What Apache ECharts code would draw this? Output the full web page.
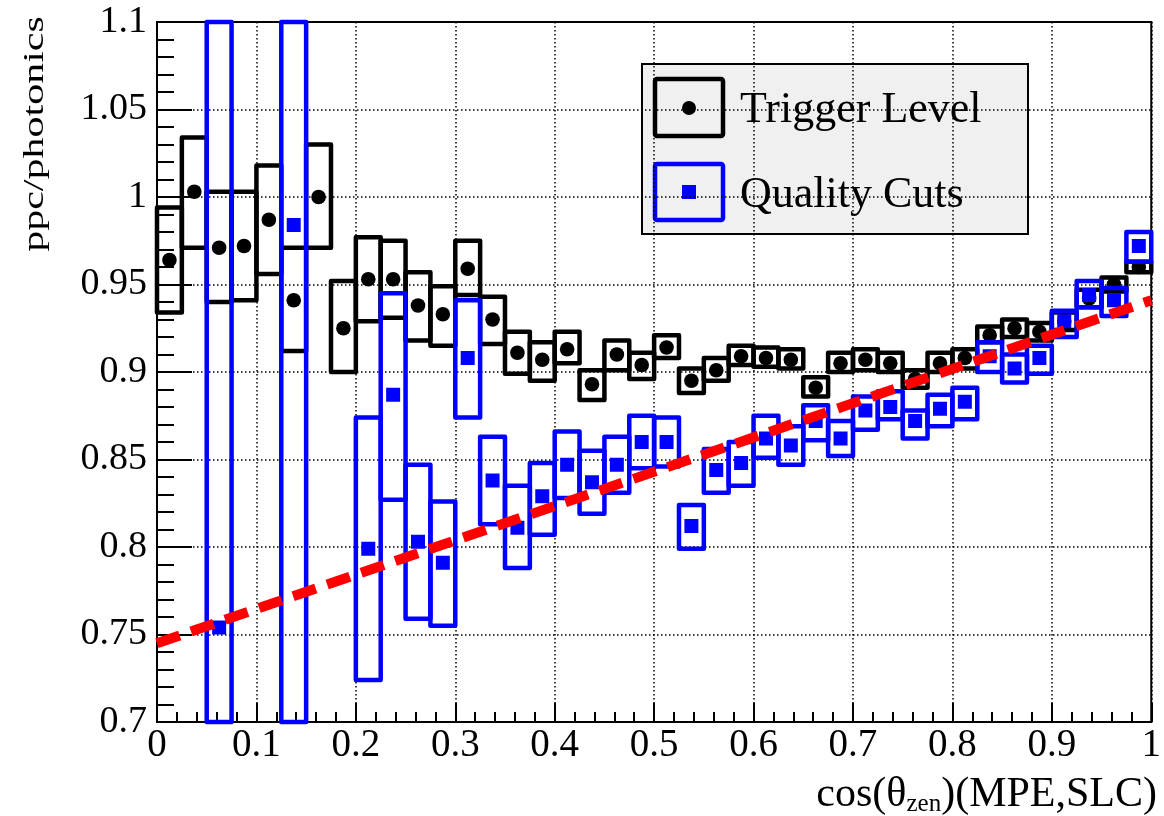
<!DOCTYPE html>
<html>
<head>
<meta charset="utf-8">
<script src="https://cdn.jsdelivr.net/npm/echarts@6/dist/echarts.min.js"></script>
<style>
  html, body { margin: 0; padding: 0; background: #fff; }
  #chart { width: 1164px; height: 816px; }
</style>
</head>
<body>
<div id="chart"></div>
<script>
// Bin lower edges in cos(theta_zen); every bin is binWidth wide
const binWidth = 0.025;
const binLow = [0, 0.025, 0.05, 0.075, 0.1, 0.125, 0.15, 0.175, 0.2, 0.225,
                0.25, 0.275, 0.3, 0.325, 0.35, 0.375, 0.4, 0.425, 0.45, 0.475,
                0.5, 0.525, 0.55, 0.575, 0.6, 0.625, 0.65, 0.675, 0.7, 0.725,
                0.75, 0.775, 0.8, 0.825, 0.85, 0.875, 0.9, 0.925, 0.95, 0.975];

// Trigger Level: ratio and its error band (low / high)
const triggerVal = [0.964, 1.003, 0.971, 0.972, 0.987, 0.941, 1.000, 0.925, 0.953, 0.953,
                    0.938, 0.933, 0.959, 0.930, 0.911, 0.907, 0.913, 0.893, 0.910, 0.904,
                    0.914, 0.895, 0.901, 0.909, 0.908, 0.907, 0.891, 0.905, 0.907, 0.905,
                    0.896, 0.905, 0.908, 0.921, 0.925, 0.923, 0.929, 0.942, 0.950, 0.960];
const triggerLo  = [0.934, 0.971, 0.940, 0.941, 0.956, 0.912, 0.971, 0.900, 0.929, 0.931,
                    0.918, 0.915, 0.944, 0.916, 0.899, 0.895, 0.905, 0.884, 0.901, 0.896,
                    0.908, 0.888, 0.895, 0.904, 0.903, 0.902, 0.886, 0.900, 0.901, 0.900,
                    0.891, 0.900, 0.902, 0.917, 0.920, 0.918, 0.924, 0.937, 0.946, 0.957];
const triggerHi  = [0.994, 1.034, 1.003, 1.003, 1.018, 0.971, 1.030, 0.952, 0.977, 0.975,
                    0.957, 0.949, 0.975, 0.943, 0.923, 0.917, 0.923, 0.901, 0.918, 0.911,
                    0.921, 0.902, 0.908, 0.915, 0.914, 0.913, 0.897, 0.911, 0.913, 0.911,
                    0.901, 0.911, 0.913, 0.926, 0.930, 0.928, 0.934, 0.947, 0.954, 0.963];

// Quality Cuts: ratio and error band (null where the bin is empty)
const qualityVal = [null, null, 0.754, null, null, 0.984, null, null, 0.799, 0.887,
                    0.803, 0.791, 0.908, 0.838, 0.811, 0.829, 0.847, 0.837, 0.847, 0.860,
                    0.860, 0.812, 0.844, 0.848, 0.862, 0.858, 0.872, 0.862, 0.878, 0.880,
                    0.872, 0.879, 0.883, 0.909, 0.902, 0.908, 0.929, 0.944, 0.941, 0.972];
const qualityLo  = [null, null, 0.600, null, null, 0.600, null, null, 0.724, 0.827,
                    0.759, 0.755, 0.874, 0.813, 0.788, 0.807, 0.828, 0.819, 0.831, 0.845,
                    0.846, 0.799, 0.831, 0.835, 0.851, 0.847, 0.861, 0.852, 0.867, 0.873,
                    0.862, 0.869, 0.873, 0.900, 0.894, 0.899, 0.920, 0.937, 0.932, 0.963];
const qualityHi  = [null, null, 1.200, null, null, 1.200, null, null, 0.874, 0.945,
                    0.847, 0.826, 0.941, 0.863, 0.835, 0.848, 0.866, 0.855, 0.863, 0.875,
                    0.874, 0.824, 0.856, 0.860, 0.875, 0.869, 0.881, 0.872, 0.886, 0.889,
                    0.878, 0.887, 0.891, 0.917, 0.910, 0.915, 0.935, 0.952, 0.948, 0.980];

// Linear trend through the Quality Cuts ratio
const fitX = [0, 1];
const fitY = [0.745, 0.941];

const xTicks = { min: 0, max: 1, step: 0.1 };
const yTicks = { min: 0.7, max: 1.1, step: 0.05 };

const serif = '"Liberation Serif", "Times New Roman", serif';

function rows(vals, lo, hi) {
  const out = [];
  for (let i = 0; i < binLow.length; i++) {
    if (vals[i] == null) continue;
    out.push([binLow[i], binLow[i] + binWidth, vals[i], lo[i], hi[i]]);
  }
  return out;
}

// Error box spanning the bin, with the central value marker inside
function boxRenderer(color, markerKind) {
  return function (params, api) {
    const x0 = api.value(0), x1 = api.value(1);
    const v = api.value(2);
    const lo = Math.max(api.value(3), yTicks.min);
    const hi = Math.min(api.value(4), yTicks.max);
    const pTop = api.coord([x0, hi]);
    const pBot = api.coord([x1, lo]);
    const c = api.coord([(x0 + x1) / 2, v]);
    const marker = markerKind === 'circle'
      ? { type: 'circle', shape: { cx: c[0], cy: c[1], r: 7.3 }, style: { fill: color } }
      : { type: 'rect', shape: { x: c[0] - 7, y: c[1] - 7, width: 14, height: 14 }, style: { fill: color } };
    return {
      type: 'group',
      children: [
        {
          type: 'rect',
          shape: { x: pTop[0], y: pTop[1], width: pBot[0] - pTop[0], height: pBot[1] - pTop[1] },
          style: { fill: 'none', stroke: color, lineWidth: 4.5, lineJoin: 'round' }
        },
        marker
      ]
    };
  };
}

const chart = echarts.init(document.getElementById('chart'), null, { renderer: 'canvas' });

const tickStyle = { color: '#000', width: 2 };
const gridDots = { color: '#000', width: 1.5, type: [1.5, 2.5] };

chart.setOption({
  animation: false,
  backgroundColor: '#fff',
  grid: {
    left: 157, right: 7, top: 22, bottom: 94,
    show: true, borderColor: '#000', borderWidth: 2, backgroundColor: 'transparent'
  },
  xAxis: {
    type: 'value', min: xTicks.min, max: xTicks.max, interval: xTicks.step,
    axisLine: { lineStyle: tickStyle },
    axisTick: { inside: true, length: 19, lineStyle: tickStyle },
    minorTick: { show: true, splitNumber: 5, length: 10, lineStyle: tickStyle },
    splitLine: { show: true, lineStyle: gridDots },
    axisLabel: { fontFamily: serif, fontSize: 39, color: '#000', margin: 4 }
  },
  yAxis: {
    type: 'value', min: yTicks.min, max: yTicks.max, interval: yTicks.step,
    axisLine: { lineStyle: tickStyle },
    axisTick: { inside: true, length: 35, lineStyle: tickStyle },
    minorTick: { show: true, splitNumber: 5, length: 17, lineStyle: tickStyle },
    splitLine: { show: true, lineStyle: gridDots },
    axisLabel: { fontFamily: serif, fontSize: 38, color: '#000', margin: 10 }
  },
  series: [
    {
      name: 'Trigger Level',
      type: 'custom',
      clip: false,
      z: 3,
      renderItem: boxRenderer('#000000', 'circle'),
      encode: { x: [0, 1], y: [2, 3, 4] },
      data: rows(triggerVal, triggerLo, triggerHi)
    },
    {
      name: 'Quality Cuts',
      type: 'custom',
      clip: false,
      z: 4,
      renderItem: boxRenderer('#0000ff', 'rect'),
      encode: { x: [0, 1], y: [2, 3, 4] },
      data: rows(qualityVal, qualityLo, qualityHi)
    },
    {
      name: 'fit',
      type: 'line',
      z: 5,
      symbol: 'none',
      silent: true,
      lineStyle: { color: '#ff0000', width: 10, type: [24, 12], cap: 'butt' },
      data: fitX.map((x, i) => [x, fitY[i]])
    }
  ],
  graphic: [
    // y-axis title
    {
      type: 'text', z: 10,
      x: 35, y: 134, rotation: Math.PI / 2, scaleX: 1.4, scaleY: 1,
      style: {
        text: 'ppc/photonics', font: '30px ' + serif, fill: '#000',
        align: 'center', verticalAlign: 'middle'
      }
    },
    // x-axis title with subscript
    {
      type: 'text', z: 10,
      x: 1157, y: 795,
      style: {
        text: '{a|cos(θ}{s|zen}{a|)(MPE,SLC)}',
        align: 'right', verticalAlign: 'middle',
        rich: {
          a: { fontFamily: serif, fontSize: 42, fill: '#000', lineHeight: 44 },
          s: { fontFamily: serif, fontSize: 25, fill: '#000', lineHeight: 44, padding: [18, 0, 0, 0] }
        }
      }
    },
    // legend
    {
      type: 'group', z: 20,
      children: [
        { type: 'rect', shape: { x: 642, y: 64, width: 386, height: 170 },
          style: { fill: '#f0f0f0', stroke: '#000', lineWidth: 2 } },
        { type: 'rect', shape: { x: 655, y: 79, width: 68, height: 57, r: 2 },
          style: { fill: 'none', stroke: '#000', lineWidth: 4.5 } },
        { type: 'circle', shape: { cx: 689, cy: 108, r: 7 }, style: { fill: '#000' } },
        { type: 'text', x: 740, y: 110,
          style: { text: 'Trigger Level', font: '44px ' + serif, fill: '#000', verticalAlign: 'middle' } },
        { type: 'rect', shape: { x: 655, y: 164, width: 68, height: 56, r: 2 },
          style: { fill: 'none', stroke: '#0000ff', lineWidth: 4.5 } },
        { type: 'rect', shape: { x: 682, y: 185, width: 14, height: 14 }, style: { fill: '#0000ff' } },
        { type: 'text', x: 740, y: 195,
          style: { text: 'Quality Cuts', font: '44px ' + serif, fill: '#000', verticalAlign: 'middle' } }
      ]
    }
  ]
});
</script>
</body>
</html>
